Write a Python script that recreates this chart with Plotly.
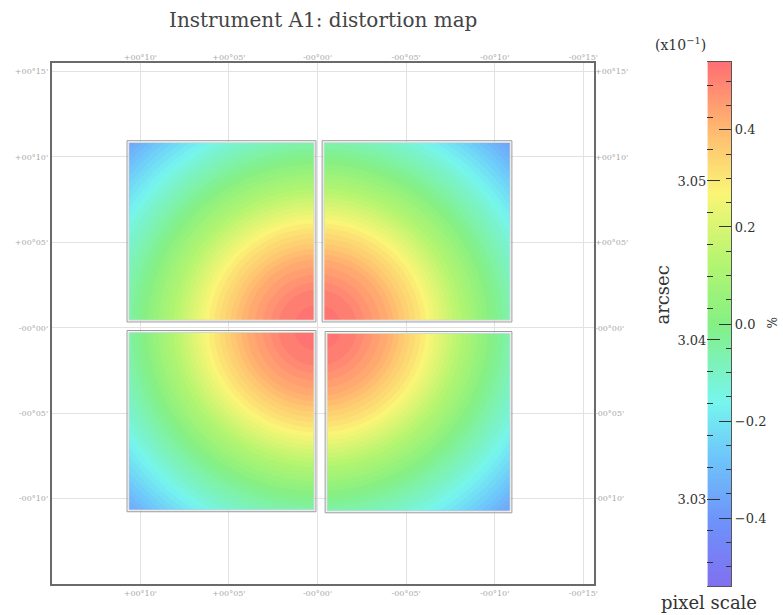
import numpy as np
import plotly.graph_objects as go

W, H = 783, 615

# ---------------- data ----------------
# radial profile of pixel-scale deviation (%, x10^-1) vs distance from field centre (arcmin)
prof_r = [0, 2, 4, 6, 8, 10, 12, 14, 16]
prof_v = [0.54, 0.51, 0.42, 0.29, 0.13, -0.01, -0.13, -0.27, -0.42]

# detector chips (offsets in arcmin; RA offset positive to the left)
chip_ra_lo = [0.22, -10.84, 0.22, -10.84]
chip_ra_hi = [10.62, -0.39, 10.62, -0.56]
chip_dec_lo = [0.47, 0.47, -10.64, -10.70]
chip_dec_hi = [10.82, 10.82, -0.29, -0.35]

ra_ticks = [10, 5, 0, -5, -10, -15]
ra_labels = ["+00°10'", "+00°05'", "-00°00'", "-00°05'", "-00°10'", "-00°15'"]
dec_ticks = [15, 10, 5, 0, -5, -10]
dec_labels = ["+00°15'", "+00°10'", "+00°05'", "-00°00'", "-00°05'", "-00°10'"]

pct_ticks = [-0.4, -0.2, 0.0, 0.2, 0.4]
pct_labels = ["\u22120.4", "\u22120.2", "0.0", "0.2", "0.4"]
arc_ticks = [3.03, 3.04, 3.05]
arc_labels = ["3.03", "3.04", "3.05"]

vmin, vmax = -0.54, 0.54
arc_lo, arc_hi = 3.02453, 3.05748

cs = [
    [0.0, "rgb(128,112,240)"],
    [0.12, "rgb(110,145,250)"],
    [0.25, "rgb(110,200,250)"],
    [0.35, "rgb(118,245,238)"],
    [0.5, "rgb(132,240,132)"],
    [0.62, "rgb(182,245,112)"],
    [0.75, "rgb(250,245,118)"],
    [0.87, "rgb(255,185,112)"],
    [1.0, "rgb(255,110,115)"],
]


def px(x):
    return x / W


def py(y):
    return 1 - y / H


fig = go.Figure()

for i in range(len(chip_ra_lo)):
    xs = np.linspace(chip_ra_lo[i], chip_ra_hi[i], 140)
    ys = np.linspace(chip_dec_lo[i], chip_dec_hi[i], 140)
    X, Y = np.meshgrid(xs, ys)
    Z = np.interp(np.hypot(X, Y), prof_r, prof_v)
    fig.add_trace(go.Contour(
        x=xs, y=ys, z=Z, colorscale=cs, zmin=vmin, zmax=vmax,
        autocontour=False,
        contours=dict(start=vmin, end=vmax, size=0.02, coloring="fill"),
        line=dict(width=0), showscale=False, hoverinfo="skip",
    ))
    for off, col in [(0.03, "#dadada"), (0.13, "#9a9a9a")]:
        fig.add_shape(type="rect", xref="x", yref="y",
                      x0=chip_ra_lo[i] - off, x1=chip_ra_hi[i] + off,
                      y0=chip_dec_lo[i] - off, y1=chip_dec_hi[i] + off,
                      line=dict(color=col, width=1), fillcolor="rgba(0,0,0,0)")

# dummy trace so the overlay axes are drawn
fig.add_trace(go.Scatter(x=[0], y=[0], xaxis="x3", yaxis="y3", mode="markers",
                         marker=dict(opacity=0), hoverinfo="skip", showlegend=False))

# colour bar ramp
ramp = np.linspace(vmin, vmax, 217)
fig.add_trace(go.Heatmap(x=[0, 1], y=ramp, z=[[v, v] for v in ramp], xaxis="x2", yaxis="y2",
                         colorscale=cs, zmin=vmin, zmax=vmax, showscale=False, hoverinfo="skip"))
fig.add_trace(go.Scatter(x=[0.5], y=[3.04], xaxis="x2", yaxis="y4", mode="markers",
                         marker=dict(opacity=0), hoverinfo="skip", showlegend=False))

small = dict(family="DejaVu Serif", size=8, color="#a8a8a8")
big = dict(family="DejaVu Serif", size=13, color="#333333")

main_x = [px(52), px(597)]
main_y = [py(584), py(63)]
bar_x = [px(711), px(735)]
bar_y = [py(586), py(62)]

fig.update_layout(
    width=W, height=H, margin=dict(l=0, r=0, t=0, b=0),
    paper_bgcolor="white", plot_bgcolor="white", showlegend=False,
    xaxis=dict(domain=main_x, range=[15, -15.6], tickvals=ra_ticks, ticktext=ra_labels,
               showgrid=True, gridcolor="#e2e2e2", gridwidth=1, zeroline=False,
               showline=True, linecolor="#6a6a6a", linewidth=2, mirror=True,
               ticks="", tickfont=small, anchor="y"),
    xaxis3=dict(overlaying="x", side="top", range=[15, -15.6], tickvals=ra_ticks,
                ticktext=ra_labels, showgrid=False, zeroline=False, showline=False,
                ticks="", tickfont=small, anchor="y"),
    yaxis=dict(domain=main_y, range=[-15, 15.5], tickvals=dec_ticks, ticktext=dec_labels,
               showgrid=True, gridcolor="#e2e2e2", gridwidth=1, zeroline=False,
               showline=True, linecolor="#6a6a6a", linewidth=2, mirror=True,
               ticks="", tickfont=small, anchor="x"),
    yaxis3=dict(overlaying="y", side="right", range=[-15, 15.5], tickvals=dec_ticks,
                ticktext=dec_labels, showgrid=False, zeroline=False, showline=False,
                ticks="", tickfont=small, anchor="x"),
    xaxis2=dict(domain=bar_x, range=[-0.5, 1.5], showticklabels=False, ticks="",
                showgrid=False, zeroline=False, showline=True, linecolor="#555555",
                linewidth=1, mirror=True, anchor="y2"),
    yaxis2=dict(domain=bar_y, range=[vmin, vmax], side="right", anchor="x2",
                tickvals=pct_ticks, ticktext=pct_labels, ticks="inside", ticklen=12,
                tickcolor="#333333", tickwidth=1.2, showgrid=False, zeroline=False,
                showline=True, linecolor="#555555", linewidth=1, tickfont=big,
                minor=dict(dtick=0.05, tick0=0, ticks="inside", ticklen=5,
                           tickcolor="#333333", showgrid=False)),
    yaxis4=dict(overlaying="y2", side="left", anchor="x2", range=[arc_lo, arc_hi],
                tickvals=arc_ticks, ticktext=arc_labels, ticks="inside", ticklen=13,
                tickcolor="#333333", tickwidth=1.2, showgrid=False, zeroline=False,
                showline=False, tickfont=big,
                minor=dict(dtick=0.002, tick0=3.03, ticks="inside", ticklen=6,
                           tickcolor="#333333", showgrid=False)),
    annotations=[
        dict(text="Instrument A1: distortion map", x=px(325), y=py(20), xref="paper",
             yref="paper", showarrow=False, xanchor="center", yanchor="middle",
             font=dict(family="DejaVu Serif", size=20, color="#444444")),
        dict(text="(x10<sup>\u22121</sup>)", x=px(684), y=py(44), xref="paper",
             yref="paper", showarrow=False, xanchor="center", yanchor="middle",
             font=dict(family="DejaVu Serif", size=14, color="#333333")),
        dict(text="arcsec", x=px(665), y=py(295), xref="paper", yref="paper",
             showarrow=False, textangle=-90, xanchor="center", yanchor="middle",
             font=dict(family="DejaVu Serif", size=18, color="#333333")),
        dict(text="%", x=px(775), y=py(322), xref="paper", yref="paper",
             showarrow=False, textangle=90, xanchor="center", yanchor="middle",
             font=dict(family="DejaVu Serif", size=12, color="#333333")),
        dict(text="pixel scale", x=px(713), y=py(602), xref="paper", yref="paper",
             showarrow=False, xanchor="center", yanchor="middle",
             font=dict(family="DejaVu Serif", size=18, color="#333333")),
    ],
)

fig.write_html("out.html")
